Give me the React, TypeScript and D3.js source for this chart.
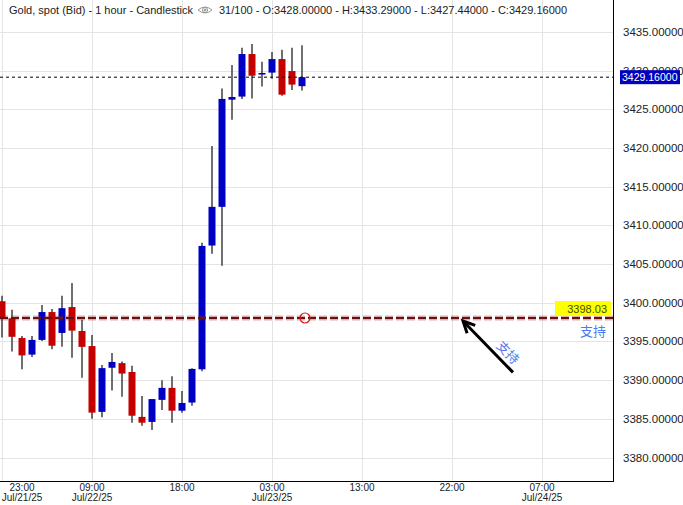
import React from "react";
import * as d3 from "d3";

// hourly bars, index 0 = 23:00 Jul/21/25
const opens = [3400.2, 3398.0, 3395.45, 3393.3, 3395.2, 3398.8, 3396.1, 3399.45, 3396.35, 3394.4, 3385.9, 3391.6, 3392.2, 3391.05, 3385.25, 3384.6, 3387.45, 3389.0, 3386.05, 3387.1, 3391.4, 3407.4, 3412.4, 3426.25, 3426.65, 3432.15, 3429.5, 3429.75, 3431.5, 3429.95, 3428.0];
const highs = [3400.9, 3399.1, 3395.7, 3395.7, 3399.7, 3399.2, 3400.9, 3402.55, 3397.8, 3395.85, 3391.95, 3393.5, 3392.4, 3391.85, 3387.95, 3387.55, 3390.0, 3390.5, 3388.6, 3391.55, 3407.75, 3420.25, 3427.7, 3430.75, 3432.95, 3433.45, 3431.15, 3432.4, 3432.7, 3432.95, 3433.29];
const lows = [3395.5, 3393.7, 3391.4, 3393.0, 3395.05, 3394.0, 3394.3, 3392.9, 3390.3, 3385.0, 3385.2, 3388.65, 3387.85, 3384.5, 3384.1, 3383.55, 3386.15, 3384.5, 3385.8, 3386.7, 3391.15, 3406.35, 3404.8, 3423.65, 3426.35, 3426.4, 3427.95, 3428.95, 3426.75, 3427.5, 3427.44];
const closes = [3398.0, 3395.6, 3393.2, 3395.2, 3398.8, 3394.45, 3399.3, 3396.4, 3394.3, 3385.8, 3391.55, 3392.35, 3390.85, 3385.4, 3384.5, 3387.55, 3389.0, 3386.05, 3387.05, 3391.45, 3407.35, 3412.4, 3426.35, 3426.6, 3432.15, 3429.35, 3429.7, 3431.5, 3426.9, 3428.2, 3429.16];

const timeTicks = [0, 9, 18, 27, 36, 45, 54];
const timeLabels = ["23:00", "09:00", "18:00", "03:00", "13:00", "22:00", "07:00"];
const dateLabels = ["Jul/21/25", "Jul/22/25", "", "Jul/23/25", "", "", "Jul/24/25"];
const priceTicks = [3380, 3385, 3390, 3395, 3400, 3405, 3410, 3415, 3420, 3425, 3430, 3435];

const supportLevel = 3398.03;
const lastPrice = 3429.16;
const supportText = "支持";
const header = "Gold, spot (Bid) - 1 hour - Candlestick";
const headerRest = "31/100 - O:3428.00000 - H:3433.29000 - L:3427.44000 - C:3429.16000";

const W = 683;
const H = 505;
const plotRight = 613;
const plotBottom = 481;
const font = "'Liberation Sans', Arial, sans-serif";

const BLUE = "#0000c4";
const RED = "#c40000";

export default function App() {
  const x = d3.scaleLinear().domain([0, 61.1]).range([2, plotRight]);
  const y = d3.scaleLinear().domain([3380, 3435]).range([457.5, 32]);

  const bars = opens.map((o, i) => ({ i, o, h: highs[i], l: lows[i], c: closes[i] }));
  const bw = 7;

  const sy = y(supportLevel);
  const tip: [number, number] = [x(46.1), sy + 3];
  const tail: [number, number] = [x(51.1), y(3391.0)];
  const ang = Math.atan2(tip[1] - tail[1], tip[0] - tail[0]);
  const head = (a: number) => [tip[0] - 13 * Math.cos(ang + a), tip[1] - 13 * Math.sin(ang + a)];
  const h1 = head(0.45);
  const h2 = head(-0.45);
  const rot = (Math.atan2(tail[1] - tip[1], tail[0] - tip[0]) * 180) / Math.PI;
  // label sits beside the arrow, a bit toward its tail
  const ux = Math.cos(ang);
  const uy = Math.sin(ang);
  const mid = [(tip[0] + tail[0]) / 2 - 18 * ux, (tip[1] + tail[1]) / 2 - 18 * uy];
  const lbl = [mid[0] - 11 * uy, mid[1] + 11 * ux];

  return (
    <svg width={W} height={H} style={{ position: "absolute", left: 0, top: 0, background: "#fff" }} fontFamily={font}>
      <rect width={W} height={H} fill="#fff" />
      {/* grid */}
      {priceTicks.map((p) => (
        <line key={"h" + p} x1={0} x2={plotRight} y1={Math.round(y(p)) + 0.5} y2={Math.round(y(p)) + 0.5} stroke="#e4e4e4" />
      ))}
      {timeTicks.map((t) => (
        <line key={"v" + t} x1={Math.round(x(t)) + 0.5} x2={Math.round(x(t)) + 0.5} y1={0} y2={plotBottom} stroke="#e4e4e4" />
      ))}

      {/* header */}
      <text x={9} y={14} fontSize={11} fill="#222">{header}</text>
      <g transform="translate(205,10)" stroke="#999" fill="none" strokeWidth={1}>
        <path d="M-7,0 Q0,-6 7,0 Q0,6 -7,0 Z" />
        <circle r={2.6} />
        <circle r={1} fill="#999" />
      </g>
      <text x={219} y={14} fontSize={11} fill="#222">{headerRest}</text>

      {/* candles */}
      {bars.map((b) => {
        const cx = x(b.i);
        const up = b.c >= b.o;
        const top = y(Math.max(b.o, b.c));
        const bot = y(Math.min(b.o, b.c));
        return (
          <g key={b.i}>
            <line x1={cx} x2={cx} y1={y(b.h)} y2={y(b.l)} stroke="#333" strokeWidth={1.4} />
            <rect x={cx - bw / 2} y={top} width={bw} height={Math.max(bot - top, 1.5)} fill={up ? BLUE : RED} />
          </g>
        );
      })}

      {/* last price line */}
      <line x1={0} x2={plotRight} y1={y(lastPrice)} y2={y(lastPrice)} stroke="#000" strokeDasharray="3,3" strokeWidth={1} />

      {/* support line */}
      <line x1={0} x2={plotRight + 2} y1={sy} y2={sy} stroke="rgba(140,30,30,0.35)" strokeWidth={5} strokeDasharray="8,3" />
      <line x1={0} x2={plotRight + 2} y1={sy} y2={sy} stroke="#6a1010" strokeWidth={2.2} strokeDasharray="8,3" />
      <circle cx={x(30.3)} cy={sy} r={5} fill="none" stroke="#e01010" strokeWidth={1.2} />

      {/* arrow */}
      <line x1={tail[0]} y1={tail[1]} x2={tip[0]} y2={tip[1]} stroke="#000" strokeWidth={3} />
      <path d={`M${h1[0]},${h1[1]} L${tip[0]},${tip[1]} L${h2[0]},${h2[1]}`} fill="none" stroke="#000" strokeWidth={3} strokeLinejoin="miter" />
      <text
        transform={`translate(${lbl[0]},${lbl[1]}) rotate(${rot})`}
        textAnchor="middle"
        dominantBaseline="central"
        fontSize={13}
        fill="#4d7cf2"
        fontFamily="'Noto Sans CJK SC', sans-serif"
      >
        {supportText}
      </text>

      {/* support label */}
      <rect x={555} y={sy - 17} width={56} height={15} fill="#ffff00" />
      <text x={607} y={sy - 5} textAnchor="end" fontSize={11} fill="#3d5200">{supportLevel.toFixed(2)}</text>
      <text x={606} y={sy + 18} textAnchor="end" fontSize={13} fill="#4d7cf2" fontFamily="'Noto Sans CJK SC', sans-serif">{supportText}</text>

      {/* axes */}
      <line x1={plotRight + 0.5} x2={plotRight + 0.5} y1={0} y2={plotBottom} stroke="#000" />
      <line x1={0} x2={plotRight + 1} y1={plotBottom + 0.5} y2={plotBottom + 0.5} stroke="#000" />
      {priceTicks.map((p) => (
        <text key={"pt" + p} x={623} y={y(p) + 4} fontSize={11.5} fill="#222">{p.toFixed(5)}</text>
      ))}
      <rect x={620} y={y(lastPrice) - 7} width={60} height={14} fill="#0000c0" />
      <text x={622} y={y(lastPrice) + 4} fontSize={10.5} fill="#fff">{lastPrice.toFixed(5)}</text>

      {timeTicks.map((t, k) => {
        const cx = Math.max(x(t), 22);
        return (
          <g key={"tt" + t}>
            <text x={cx} y={491} textAnchor="middle" fontSize={10} fill="#222">{timeLabels[k]}</text>
            {dateLabels[k] && (
              <text x={cx} y={501} textAnchor="middle" fontSize={10} fill="#222">{dateLabels[k]}</text>
            )}
          </g>
        );
      })}
    </svg>
  );
}
